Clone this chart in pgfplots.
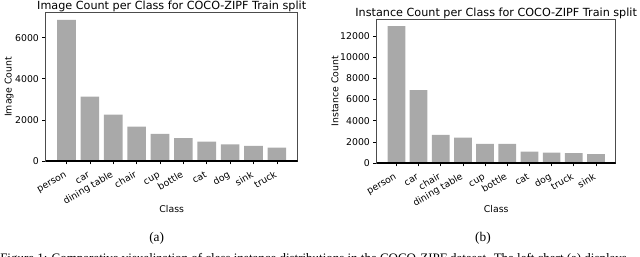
\documentclass[border=0pt]{standalone}
\usepackage{fontspec}
\setmainfont{DejaVu Sans}
\newfontfamily\capfont{Liberation Serif}
\usepackage{pgfplots}
\pgfplotsset{compat=1.18}
\definecolor{barcol}{HTML}{A9A9A9}

\pgfplotsset{
  zipf/.style={
    scale only axis,
    ymin=0,
    xmin=-0.89, xmax=9.89,
    xtick=data,
    bar width=0.8,
    ybar,
    axis line style={black!70, line width=0.45pt},
    tick style={black, line width=0.45pt},
    tick align=outside,
    major tick length=2.45pt,
    xtick pos=bottom, ytick pos=left,
    tick label style={font=\fontsize{7}{8}\selectfont},
    /pgf/number format/assume math mode=true,
    /pgf/number format/1000 sep={},
    scaled y ticks=false,
    yticklabel style={inner sep=0pt, xshift=-2.45pt},
    xticklabel style={xshift=-3.4pt, yshift=-2.45pt, rotate=30, anchor=north east, inner sep=0pt, text height=0.76em, text depth=0.21em},
    label style={font=\fontsize{7}{8}\selectfont},
    title style={font=\fontsize{8.4}{10}\selectfont, at={(0.5,1)}, anchor=base, yshift=-3.6pt},
    xlabel style={at={(axis description cs:0.5,-0.323)}, anchor=center},
  }
}

\begin{document}
\begin{tikzpicture}
\useasboundingbox (0,0) rectangle (480pt,-192.75pt);

\begin{axis}[zipf,
  at={(34.275pt,-120.75pt)}, anchor=south west,
  width=189pt, height=111.2pt,
  ymax=7214, ytick={0,2000,4000,6000},
  xticklabels={person,car,dining table,chair,cup,bottle,cat,dog,sink,truck},
  title={Image Count per Class for COCO-ZIPF Train split},
  xlabel={Class}, ylabel={Image Count},
  ylabel style={at={(axis description cs:-0.1455,0.5)}, anchor=center},
]
\addplot[fill=barcol, draw=none] coordinates {
(0,6870) (1,3130) (2,2262) (3,1676) (4,1319) (5,1108) (6,943) (7,814) (8,733) (9,651)};
\draw[black, line width=0.8pt] (rel axis cs:0,0) -- (rel axis cs:1,0);
\end{axis}

\begin{axis}[zipf,
  at={(282.525pt,-122.25pt)}, anchor=south west,
  width=179.25pt, height=107.8pt,
  ymax=13592, ytick={0,2000,4000,6000,8000,10000,12000},
  xticklabels={person,car,chair,dining table,cup,bottle,cat,dog,truck,sink},
  title={Instance Count per Class for COCO-ZIPF Train split},
  xlabel={Class}, ylabel={Instance Count},
  ylabel style={at={(axis description cs:-0.1746,0.5)}, anchor=center},
]
\addplot[fill=barcol, draw=none] coordinates {
(0,12950) (1,6890) (2,2670) (3,2394) (4,1820) (5,1815) (6,1071) (7,976) (8,945) (9,850)};
\draw[black, line width=0.8pt] (rel axis cs:0,0) -- (rel axis cs:1,0);
\end{axis}

\node[anchor=base, inner sep=0pt, font=\capfont\fontsize{10}{12}\selectfont] at (117.5pt,-180.75pt) {(a)};
\node[anchor=base, inner sep=0pt, font=\capfont\fontsize{10}{12}\selectfont] at (362.25pt,-180.75pt) {(b)};
\node[anchor=base west, inner sep=0pt, font=\capfont\fontsize{9.72}{12}\selectfont] at (0pt,-197pt) {Figure 1: Comparative visualization of class instance distributions in the COCO-ZIPF dataset. The left chart (a) displays};
\end{tikzpicture}
\end{document}
